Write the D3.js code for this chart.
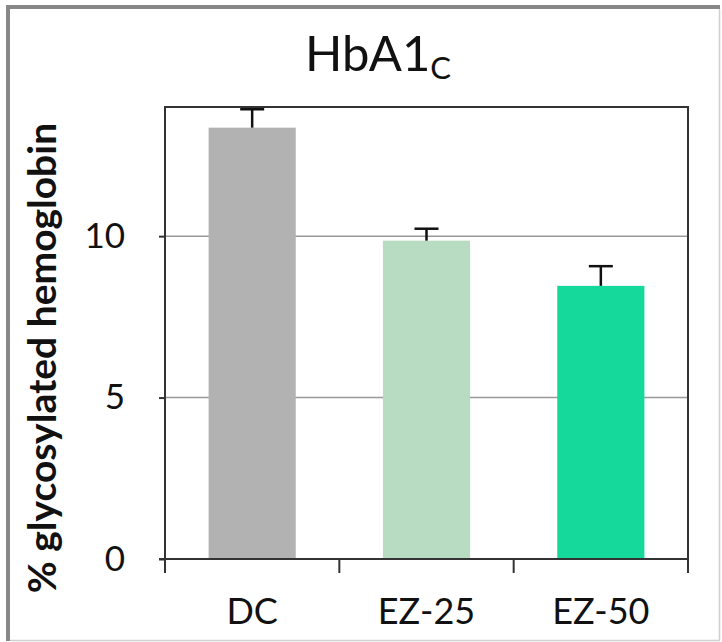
<!DOCTYPE html>
<html>
<head>
<meta charset="utf-8">
<script src="https://cdn.jsdelivr.net/npm/d3@7/dist/d3.min.js"></script>
<style>
  html, body { margin: 0; padding: 0; background: #fff; }
  svg { display: block; font-family: Lato, "Noto Sans", sans-serif; }
</style>
</head>
<body>
<script>
// data
const groups = ["DC", "EZ-25", "EZ-50"]
const means = [13.36, 9.86, 8.46]
const errors = [0.57, 0.37, 0.61]
const barColors = ["#b2b2b2", "#b8dcc2", "#15d99b"]
const yTicks = [0, 5, 10]

const W = 722, H = 642
const margin = {top: 107, right: 34, bottom: 83, left: 165}
const width = W - margin.left - margin.right
const height = H - margin.top - margin.bottom

const svg = d3.select("body").append("svg")
  .attr("width", W)
  .attr("height", H)

// frame around the picture
svg.append("line").attr("x1", 8).attr("x2", 720).attr("y1", 7).attr("y2", 7)
  .attr("stroke", "#888").attr("stroke-width", 4)
svg.append("line").attr("x1", 8).attr("x2", 8).attr("y1", 5).attr("y2", 641)
  .attr("stroke", "#888").attr("stroke-width", 4)
svg.append("line").attr("x1", 719.5).attr("x2", 719.5).attr("y1", 9).attr("y2", 641)
  .attr("stroke", "#d0d0d0").attr("stroke-width", 1.5)
svg.append("line").attr("x1", 10).attr("x2", 720).attr("y1", 640.5).attr("y2", 640.5)
  .attr("stroke", "#d0d0d0").attr("stroke-width", 1.5)

const g = svg.append("g")
  .attr("transform", "translate(" + margin.left + "," + margin.top + ")")

const x = d3.scaleBand()
  .domain(groups)
  .range([0, width])
  .paddingInner(0.5)
  .paddingOuter(0.25)

const y = d3.scaleLinear()
  .domain([0, 14])
  .range([height, 0])

// gridlines
g.selectAll(".grid")
  .data(yTicks.filter(d => d > 0))
  .enter().append("line")
    .attr("class", "grid")
    .attr("x1", 0)
    .attr("x2", width)
    .attr("y1", d => y(d))
    .attr("y2", d => y(d))
    .attr("stroke", "#999")
    .attr("stroke-width", 1.5)

// bars
g.selectAll(".bar")
  .data(groups)
  .enter().append("rect")
    .attr("class", "bar")
    .attr("x", d => x(d))
    .attr("width", x.bandwidth())
    .attr("y", (d, i) => y(means[i]))
    .attr("height", (d, i) => height - y(means[i]))
    .attr("fill", (d, i) => barColors[i])

// error bars (upper only)
const err = g.selectAll(".err")
  .data(groups)
  .enter().append("g")
    .attr("class", "err")
    .attr("stroke", "#111")
    .attr("stroke-width", 2.5)

err.append("line")
  .attr("x1", d => x(d) + x.bandwidth() / 2)
  .attr("x2", d => x(d) + x.bandwidth() / 2)
  .attr("y1", (d, i) => y(means[i]))
  .attr("y2", (d, i) => y(means[i] + errors[i]))

err.append("line")
  .attr("x1", d => x(d) + x.bandwidth() / 2 - 12)
  .attr("x2", d => x(d) + x.bandwidth() / 2 + 12)
  .attr("y1", (d, i) => y(means[i] + errors[i]))
  .attr("y2", (d, i) => y(means[i] + errors[i]))

// plot box
g.append("rect")
  .attr("width", width)
  .attr("height", height)
  .attr("fill", "none")
  .attr("stroke", "#333")
  .attr("stroke-width", 2)

// y axis
const yAxis = d3.axisLeft(y)
  .tickValues(yTicks)
  .tickSize(6)
  .tickPadding(34)

g.append("g")
  .attr("class", "y axis")
  .call(yAxis)
  .call(s => s.select(".domain").remove())
  .call(s => s.selectAll("line").attr("stroke", "#333").attr("stroke-width", 2))
  .call(s => s.selectAll("text")
    .attr("font-family", "Lato, sans-serif")
    .attr("font-size", 35)
    .attr("fill", "#111"))

// x axis: ticks at category boundaries
g.selectAll(".xtick")
  .data(d3.range(groups.length + 1))
  .enter().append("line")
    .attr("class", "xtick")
    .attr("x1", i => i * width / groups.length)
    .attr("x2", i => i * width / groups.length)
    .attr("y1", height)
    .attr("y2", height + 14)
    .attr("stroke", "#333")
    .attr("stroke-width", 2)

g.append("line")
  .attr("x1", -6)
  .attr("x2", 0)
  .attr("y1", height)
  .attr("y2", height)
  .attr("stroke", "#333")
  .attr("stroke-width", 2)

g.selectAll(".xlabel")
  .data(groups)
  .enter().append("text")
    .attr("class", "xlabel")
    .attr("x", d => x(d) + x.bandwidth() / 2)
    .attr("y", height + 65)
    .attr("text-anchor", "middle")
    .attr("font-size", 36)
    .attr("fill", "#111")
    .text(d => d)

// y axis title
svg.append("text")
  .attr("transform", "translate(56,358) rotate(-90)")
  .attr("text-anchor", "middle")
  .attr("font-weight", "bold")
  .attr("font-size", 39)
  .attr("fill", "#111")
  .text("% glycosylated hemoglobin")

// title with subscript
const title = svg.append("text")
  .attr("x", 378)
  .attr("y", 71)
  .attr("text-anchor", "middle")
  .attr("font-size", 49)
  .attr("fill", "#111")
title.append("tspan").text("HbA1")
title.append("tspan")
  .attr("font-size", 31)
  .attr("dy", 8)
  .text("C")
</script>
</body>
</html>
